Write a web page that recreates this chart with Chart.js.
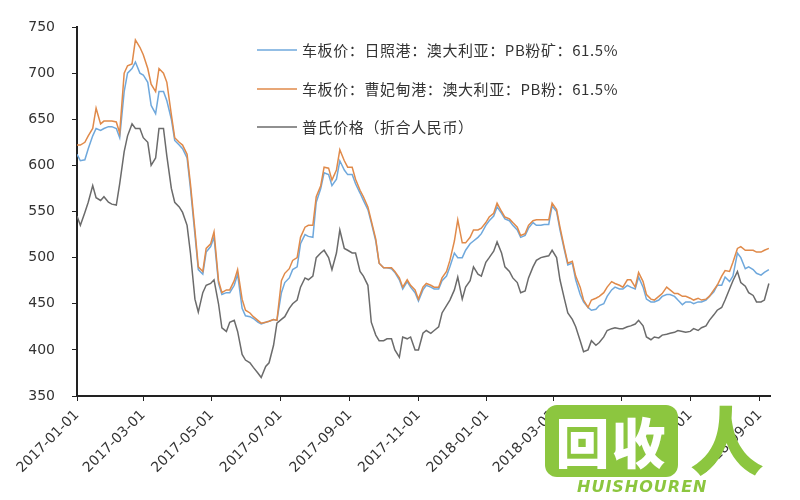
<!DOCTYPE html>
<html>
<head>
<meta charset="utf-8">
<script src="https://cdn.jsdelivr.net/npm/chart.js@4/dist/chart.umd.min.js"></script>
<style>
  body { margin: 0; background: #fff; }
  #wrap { position: relative; width: 800px; height: 500px; }
  #mark-box {
    position: absolute; left: 545px; top: 405px; width: 133px; height: 72px;
    background: #8cc63f; border-radius: 12px;
    color: #fff; font: 900 54px "Noto Sans CJK SC"; line-height: 72px;
    text-align: center; letter-spacing: 2px;
  }
  #mark-ren {
    position: absolute; left: 690px; top: 392px;
    color: #8cc63f; font: 900 74px "Noto Sans CJK SC"; line-height: 90px;
  }
  #mark-en {
    position: absolute; left: 577px; top: 477px;
    color: #8cc63f; font: italic 900 16px "DejaVu Sans"; letter-spacing: 1px;
  }
</style>
</head>
<body>
<div id="wrap">
  <canvas id="ironChart" width="800" height="500"></canvas>
  <div id="mark-box">回收</div>
  <div id="mark-ren">人</div>
  <div id="mark-en">HUISHOUREN</div>
</div>
<script>
// ── Data ────────────────────────────────────────────────
const dates = [
  "2017-01-01","2017-01-04","2017-01-08","2017-01-11","2017-01-15","2017-01-18","2017-01-22","2017-01-25",
  "2017-01-29","2017-02-01","2017-02-05","2017-02-08","2017-02-12","2017-02-15","2017-02-19","2017-02-22",
  "2017-02-26","2017-03-01","2017-03-05","2017-03-08","2017-03-12","2017-03-15","2017-03-19","2017-03-22",
  "2017-03-26","2017-03-29","2017-04-02","2017-04-05","2017-04-09","2017-04-12","2017-04-16","2017-04-19",
  "2017-04-23","2017-04-26","2017-04-30","2017-05-03","2017-05-07","2017-05-10","2017-05-14","2017-05-17",
  "2017-05-21","2017-05-24","2017-05-28","2017-05-31","2017-06-04","2017-06-07","2017-06-11","2017-06-14",
  "2017-06-18","2017-06-21","2017-06-25","2017-06-28","2017-07-02","2017-07-05","2017-07-09","2017-07-12",
  "2017-07-16","2017-07-19","2017-07-23","2017-07-26","2017-07-30","2017-08-02","2017-08-06","2017-08-09",
  "2017-08-13","2017-08-16","2017-08-20","2017-08-23","2017-08-27","2017-08-30","2017-09-03","2017-09-06",
  "2017-09-10","2017-09-13","2017-09-17","2017-09-20","2017-09-24","2017-09-27","2017-10-01","2017-10-04",
  "2017-10-08","2017-10-11","2017-10-15","2017-10-18","2017-10-22","2017-10-25","2017-10-29","2017-11-01",
  "2017-11-05","2017-11-08","2017-11-12","2017-11-15","2017-11-19","2017-11-22","2017-11-26","2017-11-29",
  "2017-12-03","2017-12-06","2017-12-10","2017-12-13","2017-12-17","2017-12-20","2017-12-24","2017-12-27",
  "2017-12-31","2018-01-03","2018-01-07","2018-01-10","2018-01-14","2018-01-17","2018-01-21","2018-01-24",
  "2018-01-28","2018-01-31","2018-02-04","2018-02-07","2018-02-11","2018-02-14","2018-02-18","2018-02-21",
  "2018-02-25","2018-02-28","2018-03-04","2018-03-07","2018-03-11","2018-03-14","2018-03-18","2018-03-21",
  "2018-03-25","2018-03-28","2018-04-01","2018-04-04","2018-04-08","2018-04-11","2018-04-15","2018-04-18",
  "2018-04-22","2018-04-25","2018-04-29","2018-05-02","2018-05-06","2018-05-09","2018-05-13","2018-05-16",
  "2018-05-20","2018-05-23","2018-05-27","2018-05-30","2018-06-03","2018-06-06","2018-06-10","2018-06-13",
  "2018-06-17","2018-06-20","2018-06-24","2018-06-27","2018-07-01","2018-07-04","2018-07-08","2018-07-11",
  "2018-07-15","2018-07-18","2018-07-22","2018-07-25","2018-07-29","2018-08-01","2018-08-05","2018-08-08",
  "2018-08-12","2018-08-15","2018-08-19","2018-08-22","2018-08-26","2018-08-29","2018-09-02","2018-09-05",
  "2018-09-09"
];

// 车板价:日照港
const rizhaoPrice = [
  612,605,606,618,632,640,638,640,642,642,640,630,680,700,705,712,
  700,698,690,665,656,680,680,670,650,627,622,618,608,575,525,487,
  482,506,512,522,472,460,462,462,470,482,445,437,436,434,430,428,
  430,431,433,432,462,473,478,487,490,515,525,523,522,560,575,592,
  590,578,585,605,595,590,590,580,570,562,552,538,518,494,489,489,
  488,484,476,466,474,468,462,453,465,470,468,466,466,475,480,490,
  505,500,500,508,515,518,522,526,535,540,545,555,548,542,540,535,
  530,522,524,532,538,535,535,536,536,556,550,530,508,492,494,476,
  460,452,446,443,444,448,450,458,465,468,466,466,470,468,466,479,
  468,455,452,452,454,458,460,460,458,454,449,452,452,450,452,452,
  454,458,463,470,470,479,474,480,505,500,488,490,487,483,481,484,
  487
];

// 车板价:曹妃甸港
const caofeidianPrice = [
  622,622,625,632,640,662,645,648,648,648,647,635,700,708,710,736,
  728,720,705,688,680,705,700,690,655,630,625,622,612,580,530,490,
  485,510,515,528,475,462,465,465,475,487,455,443,440,436,432,429,
  430,431,433,432,475,483,488,497,500,522,533,535,535,566,578,598,
  597,584,595,617,605,598,598,585,573,566,555,540,520,494,489,489,
  489,485,478,468,476,470,465,455,468,472,470,468,468,478,485,497,
  518,541,516,516,522,530,530,532,538,544,548,559,550,544,542,538,
  533,524,526,535,540,541,541,541,541,559,552,533,510,494,496,480,
  468,454,446,454,456,458,462,468,474,472,470,468,476,476,468,484,
  474,460,455,454,458,461,468,465,461,461,458,458,456,454,456,454,
  455,458,465,470,480,486,485,495,510,512,508,508,508,506,506,508,
  510
];

// 普氏价格（折合人民币）
const plattsPrice = [
  545,535,549,560,578,565,562,566,560,558,557,580,615,632,645,640,
  640,630,625,600,608,640,640,610,575,560,555,549,535,505,455,441,
  462,470,472,476,450,424,420,430,432,420,395,389,386,381,375,370,
  382,386,405,429,433,436,445,450,454,468,478,476,480,500,505,508,
  500,487,505,530,510,508,505,505,485,480,470,430,416,410,410,412,
  412,400,392,414,412,414,400,400,418,421,418,421,425,440,448,454,
  465,479,455,468,475,490,482,480,495,500,507,517,505,490,485,478,
  473,462,464,478,490,497,500,501,502,508,500,476,455,440,433,425,
  410,398,400,410,405,408,414,421,423,424,423,423,425,426,428,432,
  426,414,411,414,413,416,417,418,419,421,420,419,420,423,421,424,
  426,432,438,443,446,454,466,475,485,473,469,462,459,452,452,454,
  472
];

const seriesNames = [
  "车板价：日照港：澳大利亚：PB粉矿：61.5%",
  "车板价：曹妃甸港：澳大利亚：PB粉：61.5%",
  "普氏价格（折合人民币）"
];

const xTickLabels = [
  "2017-01-01","2017-03-01","2017-05-01","2017-07-01","2017-09-01","2017-11-01",
  "2018-01-01","2018-03-01","2018-05-01","2018-07-01","2018-09-01"
];

const yMin = 350, yMax = 750, yStep = 50;

// ── Helpers ─────────────────────────────────────────────
const day0 = Date.parse("2017-01-01");
const toDay = (s) => Math.round((Date.parse(s) - day0) / 86400000);
const xTickDays = xTickLabels.map(toDay);
const toPoints = (vals) => vals.map((v, i) => ({ x: toDay(dates[i]), y: v }));

const colors = ["#6fa8dc", "#e08a4a", "#6b6b6b"];

// legend drawn inside the plot, top right
const innerLegend = {
  id: "innerLegend",
  afterDraw(chart) {
    const c = chart.ctx;
    const rows = [50, 89, 127];
    c.save();
    c.font = '15px "Noto Sans CJK SC"';
    c.letterSpacing = "0.6px";
    c.textBaseline = "middle";
    chart.data.datasets.forEach((ds, i) => {
      c.strokeStyle = ds.borderColor;
      c.lineWidth = 1.5;
      c.beginPath();
      c.moveTo(257, rows[i]);
      c.lineTo(297, rows[i]);
      c.stroke();
      c.fillStyle = "#333";
      c.fillText(ds.label, 302, rows[i]);
    });
    c.restore();
  }
};

new Chart(document.getElementById("ironChart"), {
  type: "line",
  data: {
    datasets: [
      { label: seriesNames[0], data: toPoints(rizhaoPrice), borderColor: colors[0], order: 2 },
      { label: seriesNames[1], data: toPoints(caofeidianPrice), borderColor: colors[1], order: 1 },
      { label: seriesNames[2], data: toPoints(plattsPrice), borderColor: colors[2], order: 3 }
    ]
  },
  options: {
    responsive: false,
    animation: false,
    elements: {
      line: { borderWidth: 1.5, tension: 0 },
      point: { radius: 0 }
    },
    layout: { padding: { top: 27, right: 30, bottom: 0, left: 0 } },
    plugins: { legend: { display: false }, tooltip: { enabled: false } },
    scales: {
      x: {
        type: "linear",
        min: 0,
        max: 617,
        afterBuildTicks: (scale) => { scale.ticks = xTickDays.map((v) => ({ value: v })); },
        afterFit: (scale) => { scale.height = 104; },
        ticks: {
          autoSkip: false,
          minRotation: 45,
          maxRotation: 45,
          padding: 6,
          color: "#333",
          font: { family: "DejaVu Sans", size: 14 },
          callback: (v) => xTickLabels[xTickDays.indexOf(v)]
        },
        grid: { drawOnChartArea: false, tickLength: 5, color: "#222" },
        border: { color: "#222", width: 2 }
      },
      y: {
        min: yMin,
        max: yMax,
        afterFit: (scale) => { scale.width = 77; },
        ticks: { stepSize: yStep, padding: 17, color: "#333", font: { family: "DejaVu Sans", size: 14 } },
        grid: { drawOnChartArea: false, tickLength: 5, color: "#222" },
        border: { color: "#222", width: 2 }
      }
    }
  },
  plugins: [innerLegend]
});
</script>
</body>
</html>
